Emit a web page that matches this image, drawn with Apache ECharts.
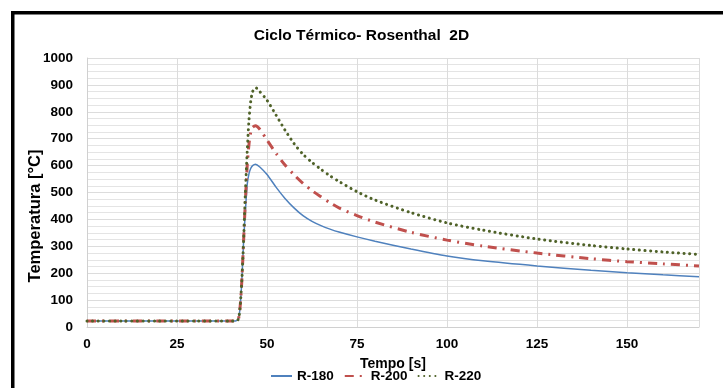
<!DOCTYPE html>
<html><head><meta charset="utf-8">
<script src="https://cdn.jsdelivr.net/npm/echarts@6/dist/echarts.min.js"></script>
<style>html,body{margin:0;padding:0;background:#fff}#c{width:723px;height:388px}</style>
</head><body><div id="c"></div>
<script>
const titleText = 'Ciclo Térmico- Rosenthal  2D';
const xName = 'Tempo [s]';
const yName = 'Temperatura [°C]';
const seriesNames = ['R-180', 'R-200', 'R-220'];
const times = [0, 10, 20, 30, 40, 41, 42, 42.5, 43, 43.5, 44, 44.5, 45, 45.5, 46, 46.8, 48, 50, 52.5, 55, 57.5, 60, 62.5, 65, 67.5, 70, 75, 80, 90, 100, 110, 125, 140, 150, 160, 170];
const r180 = [22, 22, 22, 22, 22, 22, 28, 70, 170, 320, 430, 530, 570, 590, 600, 605, 595, 567, 520, 478, 443, 414, 393, 377, 364, 353, 335, 319, 290, 264, 246, 227, 211, 202, 194, 187];
const r200 = [22, 22, 22, 22, 22, 22, 28, 70, 170, 320, 470, 600, 680, 725, 742, 748, 735, 695, 646, 602, 566, 534, 507, 484, 462, 443, 414, 390, 352, 323, 301, 275, 254, 243, 235, 227];
const r220 = [22, 22, 22, 22, 22, 22, 28, 70, 170, 320, 500, 650, 770, 840, 875, 890, 875, 843, 788, 732, 682, 642, 612, 586, 562, 541, 503, 472, 425, 387, 360, 327, 303, 290, 279, 270];
const yTicks = [0, 100, 200, 300, 400, 500, 600, 700, 800, 900, 1000];
const xTicks = [0, 25, 50, 75, 100, 125, 150];

function pairs(ys){ return times.map((t,i)=>[t, ys[i]]); }
const chart = echarts.init(document.getElementById('c'));
const font = 'Liberation Sans, Arial, sans-serif';
chart.setOption({
  backgroundColor: '#fff',
  animation: false,
  title: { text: titleText, left: 'center', top: 23, textStyle: { fontFamily: font, fontSize: 15.5, fontWeight: 'bold', color: '#000' } },
  grid: { left: 87, right: 24, top: 58, bottom: 61 },
  legend: {
    data: seriesNames, top: 369, left: 270, padding: 0,
    itemWidth: 21, itemHeight: 10, itemGap: 10,
    itemStyle: { opacity: 0 },
    textStyle: { fontFamily: font, fontSize: 13.5, fontWeight: 'bold', color: '#000' }
  },
  xAxis: {
    type: 'value', min: 0, max: 170, interval: 25,
    name: xName, nameLocation: 'middle', nameGap: 30, nameMoveOverlap: false,
    nameTextStyle: { fontFamily: font, fontSize: 14, fontWeight: 'bold', color: '#000' },
    axisLine: { show: true, lineStyle: { color: '#d0d0d0' } },
    axisTick: { show: false },
    axisLabel: { fontFamily: font, fontSize: 13.5, fontWeight: 'bold', color: '#000', margin: 10,
      formatter: v => xTicks.includes(v) ? String(v) : '' },
    splitLine: { show: true, lineStyle: { color: '#dcdcdc', width: 1 } }
  },
  yAxis: {
    type: 'value', min: 0, max: 1000, interval: 100,
    axisLine: { show: true, lineStyle: { color: '#d0d0d0' } },
    axisTick: { show: false },
    axisLabel: { fontFamily: font, fontSize: 13.5, fontWeight: 'bold', color: '#000', margin: 14,
      formatter: v => yTicks.includes(v) ? String(v) : '' },
    splitLine: { show: true, lineStyle: { color: '#dcdcdc', width: 1 } },
    minorTick: { show: true, splitNumber: 4, length: 0, lineStyle: { opacity: 0 } },
    minorSplitLine: { show: true, lineStyle: { color: '#e4e4e4', width: 1 } }
  },
  graphic: [{
    type: 'rect', silent: true, z: 100,
    shape: { x: 12.75, y: 12.75, width: 900, height: 600 },
    style: { fill: 'none', stroke: '#000', lineWidth: 3.5 }
  }, {
    type: 'text', silent: true, x: 35, y: 216, rotation: Math.PI / 2,
    style: { text: yName, fontFamily: font, fontSize: 16.5, fontWeight: 'bold', fill: '#000',
      align: 'center', verticalAlign: 'middle' }
  }],
  series: [
    { name: seriesNames[0], type: 'line', data: pairs(r180), symbol: 'none', smooth: 0.25,
      lineStyle: { color: '#4F81BD', width: 1.5 }, itemStyle: { color: '#4F81BD' } },
    { name: seriesNames[1], type: 'line', data: pairs(r200), symbol: 'none', smooth: 0.25,
      lineStyle: { color: '#C0504D', width: 3, type: [9, 6, 2, 6] }, itemStyle: { color: '#C0504D' } },
    { name: seriesNames[2], type: 'line', data: pairs(r220), symbol: 'none', smooth: 0.25,
      lineStyle: { color: '#4F6228', width: 3, type: [0.1, 5.5], cap: 'round' }, itemStyle: { color: '#4F6228' } }
  ]
});
</script></body></html>
